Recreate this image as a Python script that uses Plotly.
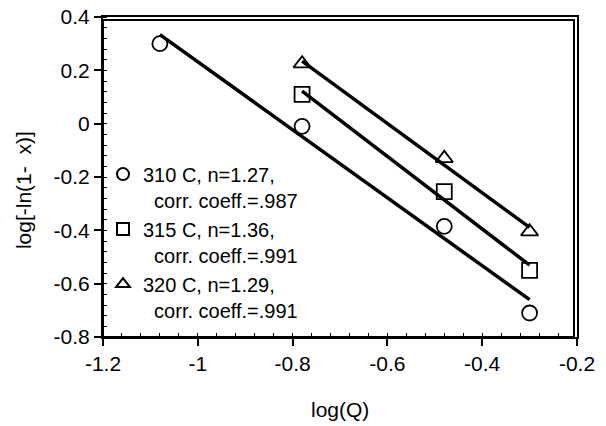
import numpy as np
import plotly.graph_objects as go

# ---- data ----
x_310 = [-1.08, -0.78, -0.48, -0.30]
y_310 = [0.30, -0.01, -0.385, -0.71]

x_315 = [-0.78, -0.48, -0.30]
y_315 = [0.11, -0.255, -0.55]

x_320 = [-0.78, -0.48, -0.30]
y_320 = [0.225, -0.13, -0.405]

names = [
    "310 C, n=1.27,<br>\u00a0\u00a0corr. coeff.=.987",
    "315 C, n=1.36,<br>\u00a0\u00a0corr. coeff.=.991",
    "320 C, n=1.29,<br>\u00a0\u00a0corr. coeff.=.991",
]
symbols = ["circle-open", "square-open", "triangle-up-open"]

x_tickvals = [-1.2, -1.0, -0.8, -0.6, -0.4, -0.2]
x_ticktext = ["-1.2", "-1", "-0.8", "-0.6", "-0.4", "-0.2"]
y_tickvals = [0.4, 0.2, 0.0, -0.2, -0.4, -0.6, -0.8]
y_ticktext = ["0.4", "0.2", "0", "-0.2", "-0.4", "-0.6", "-0.8"]

x_title = "log(Q)"
y_title = "log[-ln(1-\u00a0 x)]"

FONT = "Liberation Sans, Arial, sans-serif"
FS = 21

fig = go.Figure()

series = [(x_310, y_310), (x_315, y_315), (x_320, y_320)]

# regression lines (least-squares fit of each series)
for xs, ys in series:
    xs_a = np.array(xs)
    k, b = np.polyfit(xs_a, np.array(ys), 1)
    xl = np.array([xs_a.min(), xs_a.max()])
    fig.add_trace(go.Scatter(x=xl, y=k * xl + b, mode="lines",
                             line=dict(color="black", width=3.5),
                             showlegend=False, hoverinfo="skip"))

for (xs, ys), nm, sym in zip(series, names, symbols):
    fig.add_trace(go.Scatter(x=xs, y=ys, mode="markers", name=nm,
                             marker=dict(symbol=sym, size=15, color="black",
                                         line=dict(color="black", width=1.8))))

axis_common = dict(showline=True, linecolor="black", linewidth=2, mirror=True,
                   ticks="outside", ticklen=7, tickwidth=1.5, tickcolor="black",
                   showgrid=False, zeroline=False, automargin=False,
                   ticklabeloverflow="allow",
                   tickfont=dict(family=FONT, size=FS, color="black"))

minor = dict(ticks="inside", ticklen=4, tickwidth=1, tickcolor="black",
             tickmode="linear", tick0=0, dtick=0.04)

fig.update_xaxes(range=[-1.2, -0.2], tickmode="array", tickvals=x_tickvals,
                 ticktext=x_ticktext, minor=minor, **axis_common)
fig.update_yaxes(range=[-0.8, 0.4], tickmode="array", tickvals=y_tickvals,
                 ticktext=y_ticktext, minor=minor, **axis_common)

# plot frame (top / right edges), drawn a little inside the plot area
fig.add_shape(type="rect", xref="paper", yref="paper",
              x0=0, y0=0, x1=1 - 3 / 474, y1=1 - 3 / 320,
              line=dict(color="black", width=2), fillcolor="rgba(0,0,0,0)",
              layer="above")

fig.add_annotation(text=y_title, textangle=-90, showarrow=False,
                   xref="paper", yref="paper", x=-0.1688, y=0.459,
                   xanchor="center", yanchor="middle",
                   font=dict(family=FONT, size=FS, color="black"))
fig.add_annotation(text=x_title, showarrow=False,
                   xref="paper", yref="paper", x=0.5, y=-0.228,
                   xanchor="center", yanchor="middle",
                   font=dict(family=FONT, size=FS, color="black"))

# the page body adds an 8px offset; size and margins compensate for it
fig.update_layout(
    width=598, height=418,
    margin=dict(l=95, r=29, t=9, b=89),
    paper_bgcolor="white", plot_bgcolor="white",
    font=dict(family=FONT, size=FS, color="black"),
    showlegend=True,
    legend=dict(x=-0.0, y=0.57, xanchor="left", yanchor="top",
                bgcolor="rgba(0,0,0,0)", borderwidth=0,
                font=dict(family=FONT, size=FS - 1, color="black"),
                itemsizing="constant", valign="top", tracegroupgap=0),
)

fig.write_html("out.html")
